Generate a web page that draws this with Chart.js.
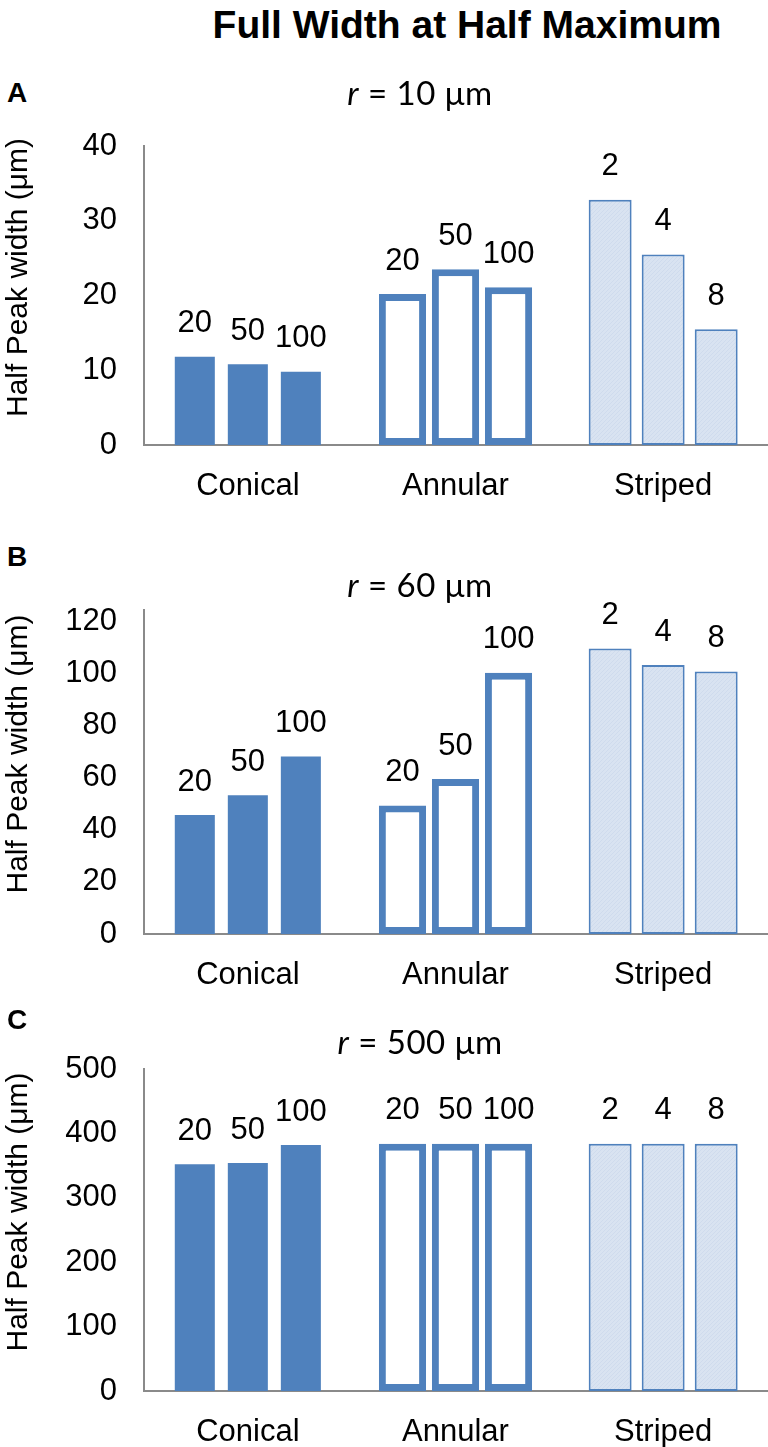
<!DOCTYPE html>
<html>
<head>
<meta charset="utf-8">
<script src="https://cdn.jsdelivr.net/npm/chart.js@4.4.1/dist/chart.umd.min.js"></script>
<style>
  html, body { margin: 0; padding: 0; background: #ffffff; }
  body { width: 768px; height: 1447px; position: relative; overflow: hidden;
         font-family: "Liberation Sans", Arial, sans-serif; color: #000; }
  canvas { position: absolute; left: 0; }
  .txt { position: absolute; white-space: nowrap; color: #000; }
  .main-title { left: 167px; width: 600px; text-align: center; top: 4px;
                font-size: 39px; line-height: 42px; font-weight: bold; }
  .letter { left: 7px; font-size: 28px; line-height: 30px; font-weight: bold; }
  .sub { left: 220px; width: 400px; text-align: center; font-family: Lato, "Open Sans", sans-serif;
         font-size: 33px; line-height: 36px; letter-spacing: 0.5px; }
</style>
</head>
<body>
<canvas id="chartA" width="768" height="400" style="top:110px"></canvas>
<canvas id="chartB" width="768" height="420" style="top:590px"></canvas>
<canvas id="chartC" width="768" height="392" style="top:1055px"></canvas>

<div class="txt main-title">Full Width at Half Maximum</div>
<div class="txt letter" style="top:78px">A</div>
<div class="txt sub" style="top:74px"><i>r</i> = 10 μm</div>
<div class="txt letter" style="top:542px">B</div>
<div class="txt sub" style="top:566px"><i>r</i> = 60 μm</div>
<div class="txt letter" style="top:1005px">C</div>
<div class="txt sub" style="top:1023px"><i>r</i> = 500 μm</div>

<script>
// ---------------- data ----------------
const categories = ['Conical', 'Annular', 'Striped'];
const conicalLabels = ['20', '50', '100'];
const annularLabels = ['20', '50', '100'];
const stripedLabels = ['2', '4', '8'];
const yAxisTitle = 'Half Peak width (μm)';

// Panel A: r = 10 µm
const aConical = [11.8, 10.8, 9.8];
const aAnnular = [20.2, 23.5, 21.1];
const aStriped = [32.8, 25.5, 15.5];
const aTicks = [0, 10, 20, 30, 40];

// Panel B: r = 60 µm
const bConical = [45.6, 53.2, 68.0];
const bAnnular = [49.3, 59.4, 100.1];
const bStriped = [109.4, 103.1, 100.6];
const bTicks = [0, 20, 40, 60, 80, 100, 120];

// Panel C: r = 500 µm
const cConical = [352, 354, 382];
const cAnnular = [384, 384, 384];
const cStriped = [384, 384, 384];
const cTicks = [0, 100, 200, 300, 400, 500];

// ---------------- styles ----------------
const BLUE = '#4f81bd';
const FONT = '"Liberation Sans", Arial, sans-serif';

function makeHatch() {
  const c = document.createElement('canvas');
  c.width = 4; c.height = 4;
  const g = c.getContext('2d');
  g.fillStyle = '#d9e3f1';
  g.fillRect(0, 0, 4, 4);
  g.fillStyle = '#cfdbed';
  for (let i = 0; i < 4; i++) g.fillRect(i, 3 - i, 1, 1);
  return g.createPattern(c, 'repeat');
}
const hatch = makeHatch();

const CAT_PCT = 0.766;
const groupStyles = [
  { backgroundColor: BLUE, borderWidth: 0, barPercentage: 0.755 },
  { backgroundColor: '#ffffff', borderColor: BLUE, borderWidth: 7, borderSkipped: false, barPercentage: 0.89 },
  { backgroundColor: hatch, borderColor: BLUE, borderWidth: 2, borderSkipped: false, barPercentage: 0.81 }
];

function buildDatasets(groups) {
  const ds = [];
  groups.forEach((g, gi) => {
    g.values.forEach((v, i) => {
      ds.push(Object.assign({
        data: categories.map((c, ci) => (ci === gi ? v : null)),
        stack: 'slot' + i,
        valueLabel: g.labels[i],
        categoryPercentage: CAT_PCT
      }, groupStyles[gi]));
    });
  });
  return ds;
}

const valueLabelPlugin = {
  id: 'valueLabels',
  afterDatasetsDraw(chart) {
    const ctx = chart.ctx;
    ctx.save();
    ctx.font = '31px ' + FONT;
    ctx.fillStyle = '#000';
    ctx.textAlign = 'center';
    ctx.textBaseline = 'middle';
    chart.data.datasets.forEach((ds, di) => {
      const meta = chart.getDatasetMeta(di);
      meta.data.forEach((el, idx) => {
        if (ds.data[idx] === null) return;
        ctx.fillText(ds.valueLabel, el.x, el.y - 33);
      });
    });
    ctx.restore();
  }
};

const yTitlePlugin = {
  id: 'yTitle',
  afterDraw(chart) {
    const area = chart.chartArea;
    const ctx = chart.ctx;
    ctx.save();
    ctx.font = '30px ' + FONT;
    ctx.fillStyle = '#000';
    ctx.textAlign = 'center';
    ctx.textBaseline = 'middle';
    ctx.translate(19, (area.top + area.bottom) / 2 - 18);
    ctx.rotate(-Math.PI / 2);
    ctx.fillText(yAxisTitle, 0, 0);
    ctx.restore();
  }
};

function makePanel(id, groups, ticks, yMax, padTop, xHeight) {
  new Chart(document.getElementById(id), {
    type: 'bar',
    data: { labels: categories, datasets: buildDatasets(groups) },
    options: {
      responsive: false,
      animation: false,
      devicePixelRatio: 1,
      layout: { autoPadding: false, padding: { left: 0, right: 1, top: padTop, bottom: 0 } },
      plugins: { legend: { display: false }, tooltip: { enabled: false } },
      scales: {
        x: {
          grid: { display: false, drawTicks: false },
          border: { display: true, color: '#8a8a8a', width: 2 },
          ticks: { color: '#000', font: { family: FONT, size: 31 }, padding: 23, maxRotation: 0 },
          afterFit(scale) { scale.height = xHeight; scale.paddingLeft = 0; scale.paddingRight = 0; }
        },
        y: {
          min: 0,
          max: yMax,
          grid: { display: false, drawTicks: false },
          border: { display: true, color: '#8a8a8a', width: 2 },
          ticks: { color: '#000', font: { family: FONT, size: 31 }, padding: 27 },
          afterBuildTicks(scale) {
            scale.ticks = ticks.map(v => ({ value: v }));
          },
          afterFit(scale) { scale.width = 144; scale.paddingTop = 0; scale.paddingBottom = 0; }
        }
      }
    },
    plugins: [valueLabelPlugin, yTitlePlugin]
  });
}

makePanel('chartA', [
  { values: aConical, labels: conicalLabels },
  { values: aAnnular, labels: annularLabels },
  { values: aStriped, labels: stripedLabels }
], aTicks, 40, 36, 65);

makePanel('chartB', [
  { values: bConical, labels: conicalLabels },
  { values: bAnnular, labels: annularLabels },
  { values: bStriped, labels: stripedLabels }
], bTicks, 124.2, 20, 76);

makePanel('chartC', [
  { values: cConical, labels: conicalLabels },
  { values: cAnnular, labels: annularLabels },
  { values: cStriped, labels: stripedLabels }
], cTicks, 500, 14, 56);
</script>
</body>
</html>
